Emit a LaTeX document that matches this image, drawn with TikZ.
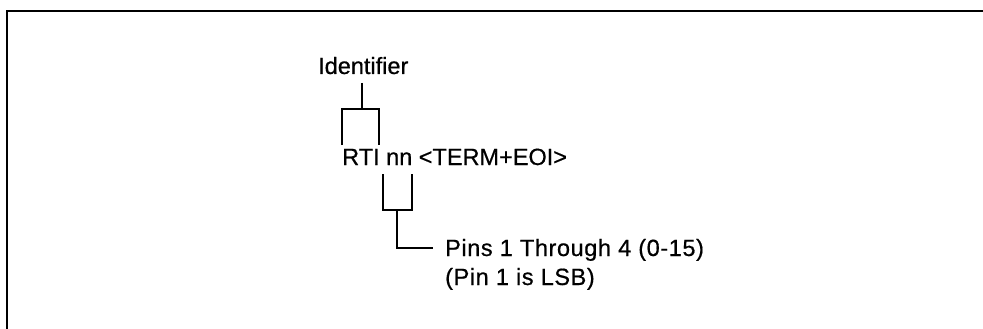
\documentclass[tikz,border=0pt]{standalone}
\usepackage{fontspec}
\setmainfont{Liberation Sans}[FakeBold=0.6]
\newfontfamily\spacedfont{Liberation Sans}[LetterSpace=2.5,FakeBold=0.6]
\begin{document}
\begin{tikzpicture}[x=1pt,y=-1pt,
  lbl/.style={anchor=base west,inner sep=0pt,font=\fontsize{23.5}{29}\selectfont},
  wide/.style={lbl,font=\spacedfont\fontsize{23.5}{29}\selectfont},
  wire/.style={line width=2pt},
  frame/.style={line width=1.8pt}]
\useasboundingbox (0,0) rectangle (983,329);
\draw[frame] (7,329) -- (7,11) -- (983,11);
\node[lbl] (id) at (318,74) {Identifier};
\node[lbl] (rti) at (342,165) {RTI nn <TERM+EOI>};
\node[wide] (pins) at (445,256) {Pins 1 Through 4 (0-15)};
\node[wide] (lsb) at (445,285) {(Pin 1 is LSB)};
\coordinate (a) at (362,83);
\coordinate (b) at (362,109);
\draw[wire] (a) -- (b);
\draw[wire] (342,145) -- (342,109) -- (379,109) -- (379,145);
\coordinate (c) at (397,210);
\draw[wire] (383,174) -- (383,210) -- (412,210) -- (412,174);
\coordinate (d) at (433,248);
\draw[wire] (c) -- (397,248) -- (d);
\end{tikzpicture}
\end{document}
